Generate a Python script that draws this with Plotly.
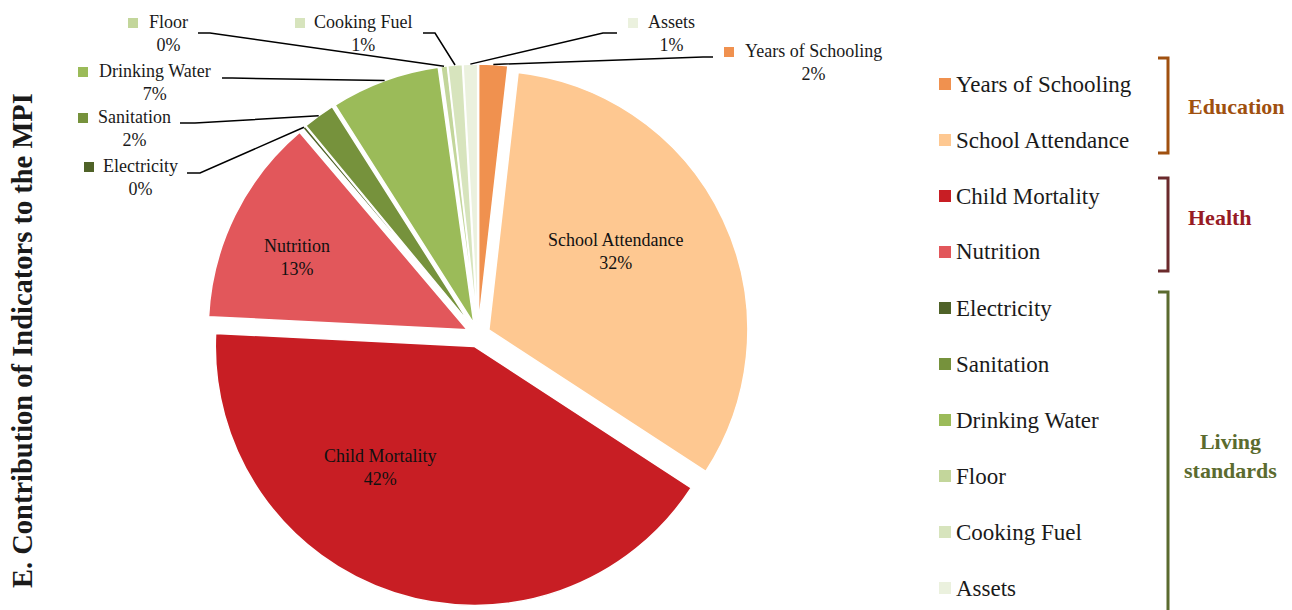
import math
import plotly.graph_objects as go

# ---------------- data ----------------
labels = ["Years of Schooling", "School Attendance", "Child Mortality", "Nutrition",
          "Electricity", "Sanitation", "Drinking Water", "Floor", "Cooking Fuel", "Assets"]
values = [1.8, 32.4, 41.6, 13.0, 0.2, 2.0, 6.8, 0.4, 0.9, 0.9]
colors = ["#F0914F", "#FEC891", "#C81E24", "#E2575B",
          "#4F6228", "#76923C", "#9BBB59", "#C3D69B", "#D7E4BD", "#EBF1DE"]
group_names = ["Education", "Health", "Living standards"]
group_colors = ["#A0500F", "#971B24", "#5B6B2F"]
bracket_colors = ["#A0500F", "#6B2A2C", "#5B6B2F"]
title_text = "E. Contribution of Indicators to the MPI"

# ---------------- geometry ----------------
W, H = 1292, 610
CX, CY, R = 478, 335, 259
PULL_PX = 12
PULL = PULL_PX / R
FONT = "Liberation Serif"
TXT = "#1A1A1A"


def px(x):
    return x / W


def py(y):
    return 1 - y / H


total = sum(values)
fracs = [v / total for v in values]
cum = []
c = 0
for f in fracs:
    cum.append(c)
    c += f


def edge_point(i):
    """point on the outer arc at the middle of slice i (clockwise from 12 o'clock)."""
    mid = (cum[i] + fracs[i] / 2) * 2 * math.pi
    dx, dy = math.sin(mid), -math.cos(mid)
    cx = CX + PULL_PX * dx
    cy = CY + PULL_PX * dy
    return cx + R * dx, cy + R * dy


rr = R * (1 + PULL)
fig = go.Figure(go.Pie(
    labels=labels, values=values, sort=False, direction="clockwise", rotation=0,
    pull=[PULL] * len(values),
    marker=dict(colors=colors, line=dict(color="white", width=1.5)),
    textinfo="none", showlegend=False,
    domain=dict(x=[px(CX - rr), px(CX + rr)], y=[py(CY + rr), py(CY - rr)]),
))

annotations = []
shapes = []


def pct(i):
    return f"{round(fracs[i] * 100):.0f}%"


# inside labels for the big slices (text layout positions)
inside = {1: (615, 252), 2: (380, 467), 3: (297, 257)}
for i, (x, y) in inside.items():
    annotations.append(dict(x=px(x), y=py(y), xref="paper", yref="paper",
                            text=f"{labels[i]}<br>{pct(i)}", showarrow=False,
                            font=dict(family=FONT, size=18, color="#111111"),
                            xanchor="center", yanchor="middle"))

# outside labels with leader lines: (text centre x, label line y, square left x, elbow points)
outside = {
    7: (168, 23, 128, [(198, 33), (210, 33)]),
    8: (363, 23, 295, [(423, 33), (435, 33)]),
    9: (671, 23, 628, [(617, 33), (603, 33)]),
    0: (813, 52, 724, [(713, 57), (703, 57)]),
    6: (155, 72, 78, [(222, 78), (232, 78)]),
    5: (134, 118, 78, [(180, 123), (195, 123)]),
    4: (140, 167, 84, [(187, 173), (200, 173)]),
}
for i, (tx, ty, sqx, elbow) in outside.items():
    annotations.append(dict(x=px(tx), y=py(ty + 10.5), xref="paper", yref="paper",
                            text=f"{labels[i]}<br>{pct(i)}", showarrow=False,
                            font=dict(family=FONT, size=18, color=TXT),
                            xanchor="center", yanchor="middle"))
    shapes.append(dict(type="rect", xref="paper", yref="paper",
                       x0=px(sqx), x1=px(sqx + 10), y0=py(ty - 5), y1=py(ty + 5),
                       fillcolor=colors[i], line=dict(width=0)))
    ex, ey = edge_point(i)
    pts = elbow + [(ex, ey)]
    path = "M " + " L ".join(f"{px(a):.5f},{py(b):.5f}" for a, b in pts)
    shapes.append(dict(type="path", xref="paper", yref="paper", path=path,
                       line=dict(color="black", width=1.5)))

# custom legend
leg_y0, leg_dy = 84, 56.0
for i, lab in enumerate(labels):
    y = leg_y0 + i * leg_dy
    shapes.append(dict(type="rect", xref="paper", yref="paper",
                       x0=px(939), x1=px(951), y0=py(y - 6), y1=py(y + 6),
                       fillcolor=colors[i], line=dict(width=0)))
    annotations.append(dict(x=px(954), y=py(y), xref="paper", yref="paper", text=lab,
                            showarrow=False, font=dict(family=FONT, size=23, color=TXT),
                            xanchor="left", yanchor="middle"))

# group brackets
brackets = [(58, 153), (178, 271), (292, 640)]
label_y = [106, 217, 456]
group_text = ["<b>Education</b>", "<b>Health</b>", "<b>Living<br>standards</b>"]
for k in range(3):
    y0, y1 = brackets[k]
    path = f"M {px(1158)},{py(y0)} L {px(1168)},{py(y0)} L {px(1168)},{py(y1)} L {px(1158)},{py(y1)}"
    shapes.append(dict(type="path", xref="paper", yref="paper", path=path,
                       line=dict(color=bracket_colors[k], width=3)))
    annotations.append(dict(x=px(1186 if k < 2 else 1182), y=py(label_y[k]), xref="paper", yref="paper",
                            text=group_text[k], showarrow=False,
                            font=dict(family=FONT, size=22, color=group_colors[k]),
                            xanchor="left", yanchor="middle", align="center"))

# vertical title
annotations.append(dict(x=px(22), y=py(341), xref="paper", yref="paper",
                        text=f"<b>{title_text}</b>", textangle=-90, showarrow=False,
                        font=dict(family=FONT, size=28.5, color=TXT),
                        xanchor="center", yanchor="middle"))

fig.update_layout(width=W, height=H, margin=dict(l=0, r=0, t=0, b=0),
                  paper_bgcolor="white", plot_bgcolor="white",
                  annotations=annotations, shapes=shapes)
fig.write_html("out.html", config={"displayModeBar": False},
               post_script="document.body.style.margin='0px';document.body.style.overflow='hidden';")
